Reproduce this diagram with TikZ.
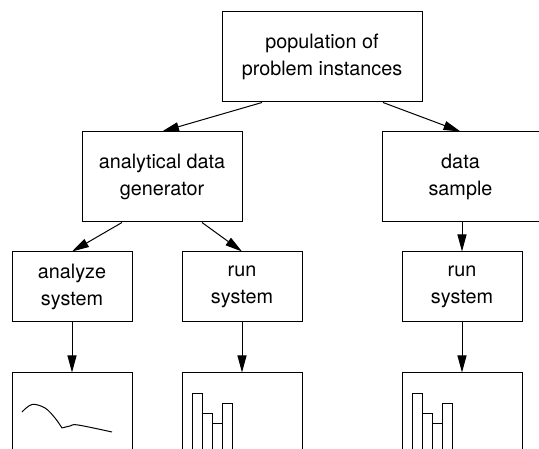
\documentclass[tikz,border=0pt]{standalone}
\usepackage{fontspec}
\setmainfont{TeX Gyre Heros}
\usetikzlibrary{arrows.meta,calc}

\begin{document}
\begin{tikzpicture}[x=1pt, y=-1pt, line width=1pt,
    box/.style={draw, align=center, inner sep=0pt, minimum width=120pt,
      minimum height=70pt, font=\fontsize{19.8}{26.5}\selectfont},
    arr/.style={-{Triangle[length=17pt,width=9pt]}}]
  % Frame
  \clip (0,0) rectangle (539,449);
  % Boxes
  \node (pop)     at (322,57)    [box, minimum width=200pt, minimum height=90pt] {population of\\problem instances};
  \node (gen)     at (162,177)   [box, minimum width=160pt, minimum height=90pt] {analytical data\\generator};
  \node (sample)  at (460.5,177) [box, minimum width=157pt, minimum height=90pt] {data\\sample};
  \node (analyze) at (72,287)    [box] {analyze\\system};
  \node (runA)    at (242,287)   [box] {run\\system};
  \node (runB)    at (462,287)   [box] {run\\system};
  \node (curve)   at (72,433)    [box, minimum height=120pt] {};
  \node (histA)   at (242,433)   [box, minimum height=120pt] {};
  \node (histB)   at (462,433)   [box, minimum height=120pt] {};
  % Arrows
  \draw [arr] ([xshift=-60pt]pop.south) -- (gen.north);
  \draw [arr] ([xshift=61pt]pop.south) -- (sample.north);
  \draw [arr] ([xshift=-40pt]gen.south) -- (analyze.north);
  \draw [arr] ([xshift=40pt]gen.south) -- (runA.north);
  \draw [arr] (runB.north |- sample.south) -- (runB.north);
  \foreach \a/\b in {analyze/curve, runA/histA, runB/histB} \draw [arr] (\a) -- (\b);
  % Curve
  \draw [line join=round] plot [smooth, tension=0.6] coordinates {(22,412) (32,404.5) (45,408) (55,418) (62,428)};
  \draw [line join=round] plot [smooth, tension=0.6] coordinates {(62,428) (70,426) (78,425) (112,432)};
  % Bars
  \foreach \h in {histA, histB}
    \foreach \x/\y in {10.5/21, 20.5/41, 30.5/51, 40.5/31}
      \draw ($(\h.north west)+(\x,\y)$) rectangle ++(10,100);
\end{tikzpicture}
\end{document}
